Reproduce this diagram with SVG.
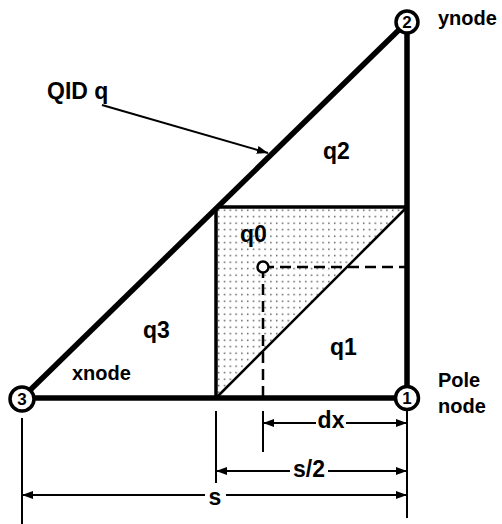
<svg xmlns="http://www.w3.org/2000/svg" width="502" height="524" viewBox="0 0 502 524">
<defs>
<pattern id="dots" x="216" y="207" width="5.8" height="6.5" patternUnits="userSpaceOnUse">
<rect x="2" y="2.5" width="1.4" height="1.4" fill="#444"/>
</pattern>
<marker id="arr" viewBox="0 0 11 8" refX="11" refY="4" markerWidth="11" markerHeight="8" markerUnits="userSpaceOnUse" orient="auto-start-reverse">
<path d="M0,0 L11,4 L0,8 Z" fill="#000"/>
</marker>
</defs>
<style>
.lbl{font-family:"Liberation Sans",Arial,Helvetica,sans-serif;font-weight:bold;font-size:23px;fill:#000}
.sm{font-size:20px}
.num{font-family:"Liberation Sans",Arial,Helvetica,sans-serif;font-weight:bold;font-size:17px;fill:#000;text-anchor:middle}
.thick{stroke:#000;stroke-width:5.5;fill:none}
.med{stroke:#000;stroke-width:3.5;fill:none}
.thin{stroke:#000;stroke-width:2;fill:none}
.dash{stroke:#000;stroke-width:2.5;fill:none;stroke-dasharray:11,6}
.node{fill:#fff;stroke:#000;stroke-width:3.5}
</style>
<g id="connectors">
<polygon points="216,207 407,207 216,398" fill="url(#dots)"/>
<line class="med" x1="216" y1="207" x2="407" y2="207"/>
<line class="med" x1="216" y1="207" x2="216" y2="398"/>
<line stroke="#000" stroke-width="2.5" x1="216" y1="398" x2="407" y2="207"/>
<line class="thick" x1="22" y1="398" x2="407" y2="22"/>
<line class="thick" x1="407" y1="22" x2="407" y2="398"/>
<line class="thick" x1="22" y1="398" x2="407" y2="398"/>
<line class="dash" x1="263" y1="267" x2="407" y2="267"/>
<line class="dash" x1="263" y1="267" x2="263" y2="398"/>
<line class="thin" x1="102" y1="105" x2="268" y2="153" marker-end="url(#arr)"/>
<line class="thin" x1="22" y1="418" x2="22" y2="524"/>
<line class="thin" x1="216" y1="411" x2="216" y2="483"/>
<line class="thin" x1="263" y1="411" x2="263" y2="452"/>
<line class="thin" x1="407" y1="411" x2="407" y2="518"/>
<line class="thin" x1="316" y1="423" x2="263" y2="423" marker-end="url(#arr)"/>
<line class="thin" x1="346" y1="423" x2="407" y2="423" marker-end="url(#arr)"/>
<line class="thin" x1="290" y1="471" x2="216" y2="471" marker-end="url(#arr)"/>
<line class="thin" x1="328" y1="471" x2="407" y2="471" marker-end="url(#arr)"/>
<line class="thin" x1="205" y1="495" x2="22" y2="495" marker-end="url(#arr)"/>
<line class="thin" x1="226" y1="495" x2="407" y2="495" marker-end="url(#arr)"/>
<circle cx="263" cy="267" r="5.5" fill="#fff" stroke="#000" stroke-width="2.5"/>
</g>
<g id="node1"><circle class="node" cx="407" cy="398" r="11.5"/><text class="num" x="407" y="404">1</text></g>
<g id="node2"><circle class="node" cx="407" cy="22" r="11"/><text class="num" x="407" y="28">2</text></g>
<g id="node3"><circle class="node" cx="22" cy="399" r="12"/><text class="num" x="22" y="405">3</text></g>
<g id="labels">
<text class="lbl" x="47" y="99">QID q</text>
<text class="lbl" x="323" y="159">q2</text>
<text class="lbl" x="240" y="242">q0</text>
<text class="lbl" x="143" y="338">q3</text>
<text class="lbl" x="330" y="355">q1</text>
<text class="lbl sm" x="72" y="380">xnode</text>
<text class="lbl sm" x="438" y="25">ynode</text>
<text class="lbl sm" x="438" y="387">Pole</text>
<text class="lbl sm" x="438" y="413">node</text>
<text class="lbl" x="331" y="428" text-anchor="middle">dx</text>
<text class="lbl" x="309" y="477" text-anchor="middle">s/2</text>
<text class="lbl" x="215" y="505" text-anchor="middle">s</text>
</g>
</svg>
